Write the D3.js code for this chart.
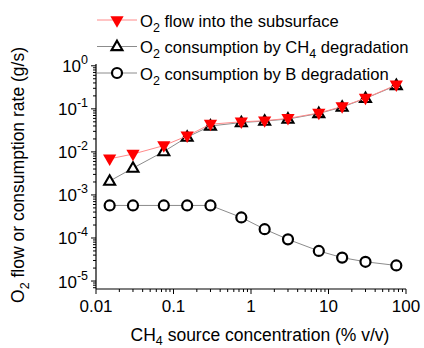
<!DOCTYPE html>
<html>
<head>
<meta charset="utf-8">
<script src="https://cdn.jsdelivr.net/npm/d3@7"></script>
<style>
  html, body { margin: 0; padding: 0; background: #fff; }
  svg { display: block; font-family: "Liberation Sans", Arial, sans-serif; }
</style>
</head>
<body>
<svg id="chart" width="424" height="348"></svg>
<script>
// CH4 source concentration (% v/v)
var conc = [0.015, 0.03, 0.075, 0.15, 0.3, 0.75, 1.5, 3, 7.5, 15, 30, 75];
// O2 flow into the subsurface (g/s)
var o2Flow = [0.0069, 0.0089, 0.014, 0.0235, 0.044, 0.05, 0.053, 0.06, 0.08, 0.113, 0.177, 0.36];
// O2 consumption by CH4 degradation (g/s)
var o2CH4 = [0.0021, 0.0042, 0.0102, 0.022, 0.040, 0.048, 0.052, 0.058, 0.078, 0.11, 0.175, 0.35];
// O2 consumption by B degradation (g/s)
var o2B = [5.7e-4, 5.7e-4, 5.7e-4, 5.7e-4, 5.7e-4, 3.0e-4, 1.6e-4, 9.3e-5, 5.0e-5, 3.5e-5, 2.8e-5, 2.3e-5];

var xTicks = [0.01, 0.1, 1, 10, 100];
var xTickLabels = ["0.01", "0.1", "1", "10", "100"];
var yExps = [0, -1, -2, -3, -4, -5];

var svg = d3.select("#chart");
var x = d3.scaleLog().domain([0.01, 100]).range([96, 406]);
var y = d3.scaleLog().domain([Math.pow(10, -5.185), 1]).range([289, 65.8]);

var FONT = 17;

// minor tick positions (2..9 of every decade)
function minors(lo, hi) {
  var out = [];
  for (var e = lo; e < hi; e++) for (var k = 2; k <= 9; k++) out.push(k * Math.pow(10, e));
  return out;
}

// --- X axis ---
var gx = svg.append("g").attr("transform", "translate(0,289)");
gx.append("line").attr("x1", 96).attr("x2", 406).attr("stroke", "#000").attr("stroke-width", 1.2);
gx.selectAll("line.minor").data(minors(-2, 2)).join("line").attr("class", "minor")
  .attr("x1", function (d) { return x(d); }).attr("x2", function (d) { return x(d); })
  .attr("y1", 0).attr("y2", 3).attr("stroke", "#000");
gx.selectAll("line.major").data(xTicks).join("line").attr("class", "major")
  .attr("x1", function (d) { return x(d); }).attr("x2", function (d) { return x(d); })
  .attr("y1", 0).attr("y2", 5).attr("stroke", "#000");
gx.selectAll("text").data(xTicks).join("text")
  .attr("x", function (d) { return x(d); }).attr("y", 23)
  .attr("text-anchor", "middle").attr("font-size", FONT)
  .text(function (d, i) { return xTickLabels[i]; });

// --- Y axis ---
var gy = svg.append("g").attr("transform", "translate(96,0)");
gy.append("line").attr("y1", 64).attr("y2", 289).attr("stroke", "#000").attr("stroke-width", 1.2);
gy.selectAll("line.minor").data(minors(-6, 0).filter(function (d) { return d > y.domain()[0]; }))
  .join("line").attr("class", "minor")
  .attr("y1", function (d) { return y(d); }).attr("y2", function (d) { return y(d); })
  .attr("x1", 0).attr("x2", -3).attr("stroke", "#000");
gy.selectAll("line.major").data(yExps).join("line").attr("class", "major")
  .attr("y1", function (d) { return y(Math.pow(10, d)); }).attr("y2", function (d) { return y(Math.pow(10, d)); })
  .attr("x1", 0).attr("x2", -5).attr("stroke", "#000");
var yl = gy.selectAll("text").data(yExps).join("text")
  .attr("x", -8).attr("y", function (d) { return y(Math.pow(10, d)) + 6.5; })
  .attr("text-anchor", "end").attr("font-size", FONT);
yl.append("tspan").text("10");
yl.append("tspan").attr("dy", -8).attr("font-size", 12.5).text(function (d) { return d === 0 ? "0" : "-" + (-d); });

// --- Axis titles ---
var xt = svg.append("text").attr("x", 260).attr("y", 341).attr("text-anchor", "middle").attr("font-size", 17.5);
xt.append("tspan").text("CH");
xt.append("tspan").attr("dy", 4).attr("font-size", 12.5).text("4");
xt.append("tspan").attr("dy", -4).text(" source concentration (% v/v)");

var yt = svg.append("text").attr("transform", "translate(24,175) rotate(-90)")
  .attr("text-anchor", "middle").attr("font-size", 17.5);
yt.append("tspan").text("O");
yt.append("tspan").attr("dy", 5).attr("font-size", 12.5).text("2");
yt.append("tspan").attr("dy", -5).text(" flow or consumption rate (g/s)");

// --- Series ---
var line = d3.line().x(function (d) { return x(d[0]); }).y(function (d) { return y(d[1]); });
function pts(vals) { return conc.map(function (c, i) { return [c, vals[i]]; }); }

var triUp = d3.symbol().type(d3.symbolTriangle).size(52);
var triDown = d3.symbol().type(d3.symbolTriangle).size(76);

// B degradation (circles)
svg.append("path").attr("d", line(pts(o2B))).attr("fill", "none").attr("stroke", "#8c8c8c").attr("stroke-width", 1);
svg.selectAll("circle.b").data(pts(o2B)).join("circle").attr("class", "b")
  .attr("cx", function (d) { return x(d[0]); }).attr("cy", function (d) { return y(d[1]); })
  .attr("r", 5).attr("fill", "#fff").attr("stroke", "#000").attr("stroke-width", 2.2);

// CH4 degradation (open up-triangles)
svg.append("path").attr("d", line(pts(o2CH4))).attr("fill", "none").attr("stroke", "#8c8c8c").attr("stroke-width", 1);
svg.selectAll("path.ch4").data(pts(o2CH4)).join("path").attr("class", "ch4")
  .attr("d", triUp)
  .attr("transform", function (d) { return "translate(" + x(d[0]) + "," + (y(d[1]) + 0.5) + ")"; })
  .attr("fill", "#fff").attr("stroke", "#000").attr("stroke-width", 2.1);

// O2 flow (red filled down-triangles)
svg.append("path").attr("d", line(pts(o2Flow))).attr("fill", "none").attr("stroke", "#ff8a8a").attr("stroke-width", 1);
svg.selectAll("path.flow").data(pts(o2Flow)).join("path").attr("class", "flow")
  .attr("d", triDown)
  .attr("transform", function (d) { return "translate(" + x(d[0]) + "," + (y(d[1]) - 0.5) + ") rotate(180)"; })
  .attr("fill", "#ff0000").attr("stroke", "none");

// --- Legend ---
var legend = [
  { main: "O", sub: "2", rest: " flow into the subsurface", kind: "flow" },
  { main: "O", sub: "2", rest: " consumption by CH", sub2: "4", rest2: " degradation", kind: "ch4" },
  { main: "O", sub: "2", rest: " consumption by B degradation", kind: "b" }
];
var lg = svg.selectAll("g.leg").data(legend).join("g").attr("class", "leg")
  .attr("transform", function (d, i) { return "translate(0," + (20 + i * 26.5) + ")"; });
lg.append("line").attr("x1", 97).attr("x2", 137)
  .attr("stroke", function (d) { return d.kind === "flow" ? "#ff8a8a" : "#8c8c8c"; }).attr("stroke-width", 1);
lg.each(function (d) {
  var g = d3.select(this);
  if (d.kind === "flow") {
    g.append("path").attr("d", triDown).attr("transform", "translate(117,0) rotate(180)").attr("fill", "#ff0000");
  } else if (d.kind === "ch4") {
    g.append("path").attr("d", triUp).attr("transform", "translate(117,0.5)")
      .attr("fill", "#fff").attr("stroke", "#000").attr("stroke-width", 2.1);
  } else {
    g.append("circle").attr("cx", 117).attr("r", 5).attr("fill", "#fff").attr("stroke", "#000").attr("stroke-width", 2.2);
  }
  var t = g.append("text").attr("x", 140).attr("y", 6.5).attr("font-size", 16.6);
  t.append("tspan").text(d.main);
  t.append("tspan").attr("dy", 5).attr("font-size", 12.5).text(d.sub);
  t.append("tspan").attr("dy", -5).text(d.rest);
  if (d.sub2) {
    t.append("tspan").attr("dy", 5).attr("font-size", 12.5).text(d.sub2);
    t.append("tspan").attr("dy", -5).text(d.rest2);
  }
});
</script>
</body>
</html>
